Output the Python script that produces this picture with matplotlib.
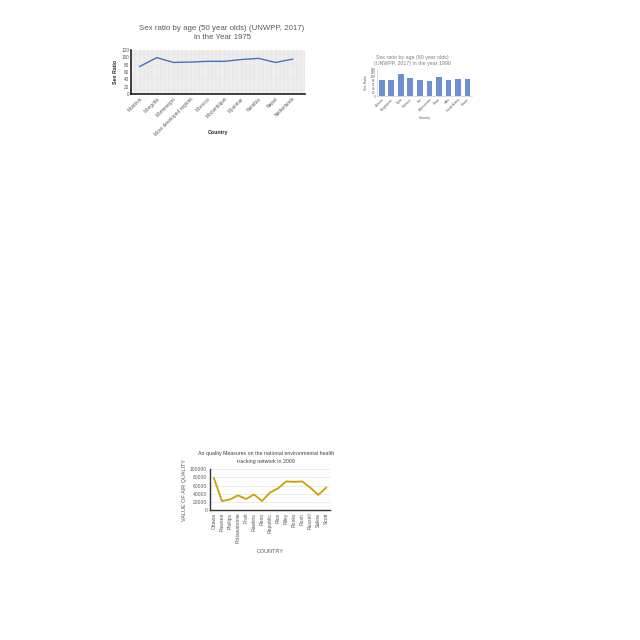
import matplotlib.pyplot as plt
import numpy as np

plt.rcParams['font.family'] = ['Liberation Sans', 'DejaVu Sans']

# chart 1: sex ratio at 50, 1975
countries_75 = ["Moldova", "Mongolia", "Montenegro", "More developed regions", "Morocco",
                "Mozambique", "Myanmar", "Namibia", "Nepal", "Netherlands"]
ratio_75 = [75, 99, 86, 87, 89, 89, 94, 97, 86, 95]

# chart 2: sex ratio at 60, 1990
countries_90 = ["Bahrain", "Bangladesh", "Qatar", "Pakistan", "Iran",
                "Afghanistan", "Oman", "India", "Saudi Arabia", "Kuwait"]
ratio_90 = [84, 83, 114, 93, 82, 80, 99, 83, 86, 88]

# chart 3: air quality, 2009
counties = ["Ottawa", "Pawnee", "Phillips", "Pottawatomie", "Pratt", "Rawlins", "Reno",
            "Republic", "Rice", "Riley", "Rooks", "Rush", "Russell", "Saline", "Scott"]
air_quality = [78000, 22000, 26000, 36000, 27000, 38000, 22000, 43000, 53000,
               70000, 69000, 70000, 55000, 37000, 55000]

fig = plt.figure(figsize=(6.4, 6.4), dpi=100)
grey = "#595959"

# --- chart 1 ---
ax1 = fig.add_axes([0.205, 0.853, 0.272, 0.069])
x = np.arange(len(countries_75))
ax1.plot(x, ratio_75, color="#4472c4", lw=1.0)
ax1.set_xlim(-0.5, len(x) - 0.5)
ax1.set_ylim(0, 120)
ax1.set_yticks(range(0, 121, 20))
ax1.set_xticks(x)
ax1.set_xticklabels(countries_75, rotation=45, ha="right", rotation_mode="anchor")
ax1.set_facecolor("#f4f4f4")
ax1.set_xticks(np.arange(-0.5, len(x), 0.25), minor=True)
ax1.set_yticks(range(0, 121, 5), minor=True)
ax1.grid(which="both", color="#dcdcdc", lw=0.35)
ax1.set_axisbelow(True)
for s in ["top", "right"]:
    ax1.spines[s].set_visible(False)
for s in ["left", "bottom"]:
    ax1.spines[s].set_color("#202020")
    ax1.spines[s].set_linewidth(1.2)
ax1.tick_params(which="both", length=0, labelsize=3.4, colors=grey, pad=1.5)
ax1.set_xlabel("Country", fontsize=3.8, color="#262626", fontweight="bold")
ax1.xaxis.set_label_coords(0.5, -0.82)
ax1.set_ylabel("Sex Ratio", fontsize=3.8, color="#262626", fontweight="bold", labelpad=2)
fig.text(0.347, 0.948, "Sex ratio by age (50 year olds) (UNWPP, 2017)\nin the Year 1975",
         ha="center", va="center", fontsize=5.7, color=grey, linespacing=1.45)

# --- chart 2 ---
ax2 = fig.add_axes([0.589, 0.85, 0.149, 0.042])
x2 = np.arange(len(countries_90))
ax2.bar(x2, ratio_90, width=0.6, color="#6f8fd2")
ax2.set_xlim(-0.5, len(x2) - 0.5)
ax2.set_ylim(0, 140)
ax2.set_yticks(range(0, 141, 20))
ax2.set_xticks(x2)
ax2.set_xticklabels(countries_90, rotation=45, ha="right", rotation_mode="anchor")
for s in ["top", "right"]:
    ax2.spines[s].set_visible(False)
for s in ["left", "bottom"]:
    ax2.spines[s].set_color("#bfbfbf")
    ax2.spines[s].set_linewidth(0.4)
ax2.tick_params(length=0, labelsize=2.2, colors=grey, pad=1)
ax2.set_xlabel("Country", fontsize=2.4, color=grey)
ax2.xaxis.set_label_coords(0.5, -0.76)
ax2.set_ylabel("Sex Ratio", fontsize=2.4, color=grey, labelpad=2)
fig.text(0.645, 0.905, "Sex ratio by age (60 year olds)\n(UNWPP, 2017) in the year 1990",
         ha="center", va="center", fontsize=3.8, color="#7f7f7f", linespacing=1.3)

# --- chart 3 ---
ax3 = fig.add_axes([0.328, 0.203, 0.188, 0.064])
x3 = np.arange(len(counties))
ax3.plot(x3, air_quality, color="#c9a100", lw=1.3)
ax3.set_xlim(-0.5, len(x3) - 0.5)
ax3.set_ylim(0, 100000)
ax3.set_yticks(range(0, 100001, 20000))
ax3.set_xticks(x3)
ax3.set_xticklabels(counties, rotation=90)
ax3.yaxis.grid(True, color="#e3e3e3", lw=0.5)
ax3.set_axisbelow(True)
for s in ["top", "right"]:
    ax3.spines[s].set_visible(False)
for s in ["left", "bottom"]:
    ax3.spines[s].set_color("#333333")
    ax3.spines[s].set_linewidth(1.0)
ax3.tick_params(length=0, labelsize=3.6, colors=grey, pad=2)
ax3.set_xlabel("COUNTRY", fontsize=4, color=grey)
ax3.xaxis.set_label_coords(0.5, -0.95)
ax3.set_ylabel("VALUE OF AIR QUALITY", fontsize=4, color=grey, labelpad=2)
fig.text(0.416, 0.285, "Air quality Measures on the national environmental health\ntracking network in 2009",
         ha="center", va="center", fontsize=3.8, color="#404040", linespacing=1.9)

fig.savefig("out.png", dpi=100, facecolor="white")
